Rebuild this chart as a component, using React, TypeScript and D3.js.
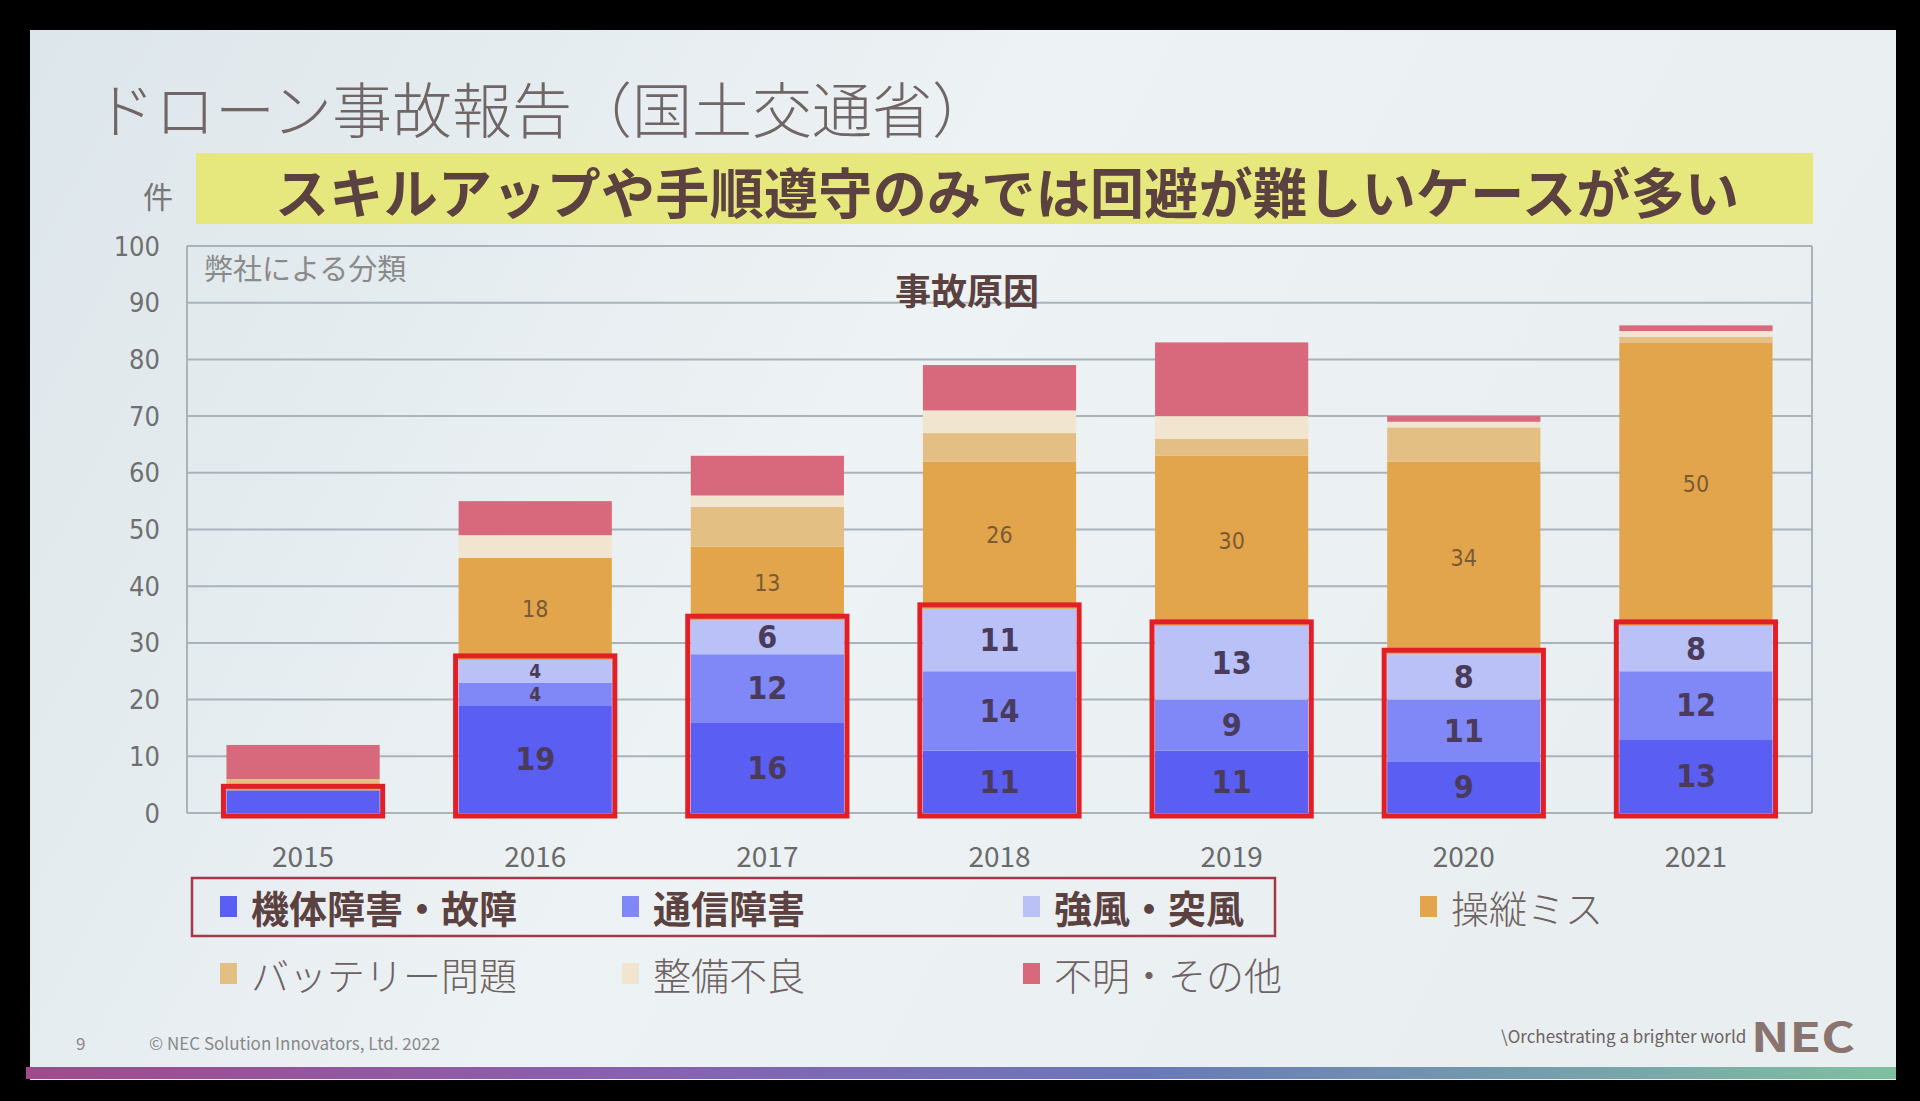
import React from "react";
import * as d3 from "d3";

const years = ["2015", "2016", "2017", "2018", "2019", "2020", "2021"];
const seriesNames = ["機体障害・故障", "通信障害", "強風・突風", "操縦ミス", "バッテリー問題", "整備不良", "不明・その他"];
const kitai = [4, 19, 16, 11, 11, 9, 13];
const tsushin = [0, 4, 12, 14, 9, 11, 12];
const kyofu = [0, 4, 6, 11, 13, 8, 8];
const soju = [1, 18, 13, 26, 30, 34, 50];
const battery = [1, 0, 7, 5, 3, 6, 1];
const seibi = [0, 4, 2, 4, 4, 1, 1];
const fumei = [6, 6, 7, 8, 13, 1, 1];
const seriesValues = [kitai, tsushin, kyofu, soju, battery, seibi, fumei];
const colors = ["#5b5ef2", "#8087f6", "#b9c1f7", "#e2a54b", "#e3bf84", "#f2e5cf", "#d8687b"];
const yTicks = [0, 10, 20, 30, 40, 50, 60, 70, 80, 90, 100];

const FONT = "'Noto Sans CJK JP', 'Noto Sans', sans-serif";
const NUM = "'Liberation Sans Narrow', 'DejaVu Sans Condensed', sans-serif";

export default function App() {
  const W = 1920, H = 1101;
  const x = d3.scaleBand().domain(years).range([187, 1812]).paddingInner(0.34).paddingOuter(0.17);
  const y = d3.scaleLinear().domain([0, 100]).range([813, 246]);

  const rows = years.map((yr, i) => {
    const o: any = { year: yr };
    seriesNames.forEach((s, k) => (o[s] = seriesValues[k][i]));
    return o;
  });
  const stacked = d3.stack().keys(seriesNames)(rows as any);

  const legendItems = [
    { k: 0, x: 220, y: 906, bold: true },
    { k: 1, x: 622, y: 906, bold: true },
    { k: 2, x: 1023, y: 906, bold: true },
    { k: 3, x: 1420, y: 906, bold: false },
    { k: 4, x: 220, y: 973, bold: false },
    { k: 5, x: 622, y: 973, bold: false },
    { k: 6, x: 1023, y: 973, bold: false },
  ];

  return (
    <div style={{ position: "fixed", left: 0, top: 0, width: W, height: H, background: "#000" }}>
      <svg width={W} height={H} style={{ display: "block", fontFamily: FONT }}>
        <defs>
          <linearGradient id="slidebg" x1="0" y1="0" x2="1" y2="0.3">
            <stop offset="0" stopColor="#dde6eb" />
            <stop offset="0.5" stopColor="#edf2f4" />
            <stop offset="1" stopColor="#e9eef1" />
          </linearGradient>
          <linearGradient id="stripe" x1="0" y1="0" x2="1" y2="0">
            <stop offset="0" stopColor="#a04a8a" />
            <stop offset="0.3" stopColor="#8a5fb0" />
            <stop offset="0.6" stopColor="#6a78b8" />
            <stop offset="1" stopColor="#7fc0a0" />
          </linearGradient>
        </defs>
        <rect x={30} y={30} width={1866} height={1050} fill="url(#slidebg)" />
        <rect x={26} y={1067} width={1870} height={12} fill="url(#stripe)" />

        {/* title */}
        <text x={95} y={106} fontSize={60} fontWeight={300} fill="#716666" dominantBaseline="central">
          ドローン事故報告（国土交通省）
        </text>

        {/* banner */}
        <rect x={196} y={153} width={1617} height={71} fill="#e6e77c" />
        <text x={275} y={190} fontSize={54} fontWeight={700} fill="#5b4140" dominantBaseline="central"
          textLength={1464} lengthAdjust="spacing">
          スキルアップや手順遵守のみでは回避が難しいケースが多い
        </text>
        <text x={158} y={195} fontSize={30} fill="#777" textAnchor="middle" dominantBaseline="central">件</text>

        {/* grid */}
        {yTicks.map((t) => (
          <g key={t}>
            <line x1={187} x2={1812} y1={y(t)} y2={y(t)} stroke="#a9b3ba" strokeWidth={2} />
            <text x={160} y={y(t)} fontSize={27} fill="#6f6f6f" textAnchor="end" dominantBaseline="central"
              fontFamily={NUM}>
              {t}
            </text>
          </g>
        ))}
        <line x1={187} x2={187} y1={y(100)} y2={y(0)} stroke="#a9b3ba" strokeWidth={2} />
        <line x1={1812} x2={1812} y1={y(100)} y2={y(0)} stroke="#a9b3ba" strokeWidth={2} />

        <text x={204} y={267} fontSize={29} fill="#8a8a8a" dominantBaseline="central">弊社による分類</text>
        <text x={967} y={289} fontSize={36} fontWeight={700} fill="#5b4140" textAnchor="middle" dominantBaseline="central">事故原因</text>

        {/* bars */}
        {stacked.map((layer, k) => (
          <g key={k}>
            {layer.map((d, i) => {
              const v = d[1] - d[0];
              if (v <= 0) return null;
              return (
                <rect key={i} x={x(years[i])!} width={x.bandwidth()} y={y(d[1])} height={y(d[0]) - y(d[1])} fill={colors[k]} />
              );
            })}
          </g>
        ))}

        {/* red boxes around blue stacks */}
        {years.map((yr, i) => {
          const top = stacked[2][i][1];
          return (
            <rect key={yr} x={x(yr)! - 3} width={x.bandwidth() + 6} y={y(top) - 4} height={y(0) - y(top) + 7}
              fill="none" stroke="#e21f26" strokeWidth={5} />
          );
        })}

        {/* labels */}
        {stacked.slice(0, 4).map((layer, k) => (
          <g key={k}>
            {layer.map((d, i) => {
              const v = d[1] - d[0];
              const total = stacked[6][i][1];
              if (v < 4 || total < 20) return null;
              const cx = x(years[i])! + x.bandwidth() / 2;
              const cy = (y(d[0]) + y(d[1])) / 2;
              const isOrange = k === 3;
              const fs = isOrange ? 23 : v <= 4 ? 19 : 32;
              return (
                <text key={i} x={cx} y={cy} fontSize={fs} fontWeight={isOrange ? 400 : 700} fontFamily={NUM}
                  fill={isOrange ? "#7a5a34" : "#4a3b5c"} textAnchor="middle" dominantBaseline="central">
                  {v}
                </text>
              );
            })}
          </g>
        ))}

        {/* x labels */}
        {years.map((yr) => (
          <text key={yr} x={x(yr)! + x.bandwidth() / 2} y={855} fontSize={28} fill="#6a6a6a" textAnchor="middle"
            dominantBaseline="central">
            {yr}
          </text>
        ))}

        {/* legend */}
        <rect x={192} y={878} width={1083} height={58} fill="none" stroke="#a23848" strokeWidth={2.5} />
        {legendItems.map((it) => (
          <g key={it.k}>
            <rect x={it.x} y={it.y - 10} width={17} height={21} fill={colors[it.k]} />
            <text x={it.x + 31} y={it.y} fontSize={38} fontWeight={it.bold ? 700 : 300}
              fill={it.bold ? "#5b4140" : "#6e6262"} dominantBaseline="central">
              {seriesNames[it.k]}
            </text>
          </g>
        ))}

        {/* footer */}
        <text x={76} y={1042} fontSize={17} fill="#888" dominantBaseline="central">9</text>
        <text x={149} y={1042} fontSize={17} fill="#888" dominantBaseline="central">© NEC Solution Innovators, Ltd. 2022</text>
        <text x={1501} y={1035} fontSize={17} fill="#6e6262" dominantBaseline="central">\Orchestrating a brighter world</text>
        <text x={1751} y={1035} fontSize={40} fontWeight={700} fill="#8a7470" dominantBaseline="central"
          textLength={104} lengthAdjust="spacingAndGlyphs">NEC</text>
      </svg>
    </div>
  );
}
